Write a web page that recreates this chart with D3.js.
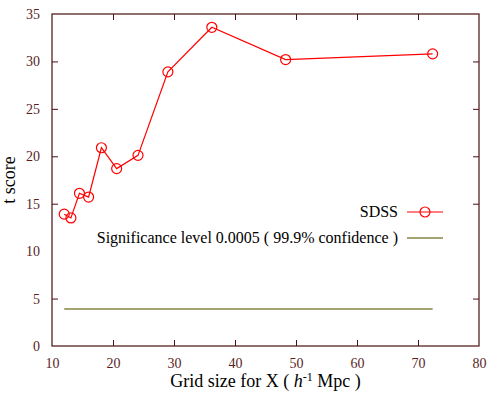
<!DOCTYPE html>
<html><head><meta charset="utf-8">
<script src="https://cdn.jsdelivr.net/npm/d3@7"></script>
<style>
  @font-face { font-family: "GpSerif"; src: local("Liberation Serif"), local("LiberationSerif"); font-display: swap; }
  @font-face { font-family: "GpSerif"; font-style: italic; src: local("Liberation Serif Italic"), local("LiberationSerif-Italic"); font-display: swap; }
</style>
</head>
<body style="margin:0">
<svg id="fig" width="500" height="400"></svg>
<script>
// ------ data
var gridSize = [12.0, 13.1, 14.5, 16.0, 18.1, 20.6, 24.1, 29.0, 36.2, 48.3, 72.4];
var tScore   = [13.9, 13.5, 16.1, 15.7, 20.9, 18.7, 20.1, 28.9, 33.6, 30.2, 30.8];
var sigX = [12.0, 72.4];
var sigLevel = 3.9;
var xTicks = [10, 20, 30, 40, 50, 60, 70, 80];
var yTicks = [0, 5, 10, 15, 20, 25, 30, 35];
var legendLabels = ["SDSS", "Significance level 0.0005 ( 99.9% confidence )"];

// ------ margins / sizes
var margin = {top: 14, right: 21, bottom: 54, left: 52},
    width = 500 - margin.left - margin.right,
    height = 400 - margin.top - margin.bottom;

var fontSerif = "'Liberation Serif', GpSerif, 'Times New Roman', serif";
var axisColor = "#4a1010";
var svg = d3.select("#fig").attr("font-family", "Liberation Serif").style("font-family", fontSerif);

var x = d3.scaleLinear().domain([10, 80]).range([0, width]);
var y = d3.scaleLinear().domain([0, 35]).range([height, 0]);

var g = svg.append("g").attr("transform", "translate(" + margin.left + "," + margin.top + ")");

// axes, gnuplot style: inward ticks, mirrored
var tk = 6;
g.append("g").attr("transform", "translate(0," + height + ")")
  .call(d3.axisBottom(x).tickValues(xTicks).tickSizeInner(-tk).tickSizeOuter(0).tickPadding(12));
g.append("g")
  .call(d3.axisTop(x).tickValues(xTicks).tickSizeInner(-tk).tickSizeOuter(0).tickFormat(""));
g.append("g")
  .call(d3.axisLeft(y).tickValues(yTicks).tickSizeInner(-tk).tickSizeOuter(0).tickPadding(12));
g.append("g").attr("transform", "translate(" + width + ",0)")
  .call(d3.axisRight(y).tickValues(yTicks).tickSizeInner(-tk).tickSizeOuter(0).tickFormat(""));

g.selectAll(".domain").remove();
g.selectAll("g").attr("font-family", "Liberation Serif");
g.selectAll(".tick line").attr("stroke", axisColor);
g.selectAll(".tick text").attr("fill", "#5a1e1e")
  .style("font-family", fontSerif).style("font-size", "14px");
// drop end ticks that land on the border
g.selectAll(".tick").filter(function(d) { return d === 10 || d === 80 || d === 0 || d === 35; })
  .select("line").remove();

g.append("rect")
  .attr("width", width).attr("height", height)
  .attr("fill", "none").attr("stroke", axisColor).attr("stroke-width", 1.2);

// significance line
g.append("line")
  .attr("x1", x(sigX[0])).attr("x2", x(sigX[1]))
  .attr("y1", y(sigLevel)).attr("y2", y(sigLevel))
  .attr("stroke", "#a4a473").attr("stroke-width", 2);

// SDSS line + circles
var pts = gridSize.map(function(d, i) { return {x: d, y: tScore[i]}; });
g.append("path").datum(pts)
  .attr("fill", "none").attr("stroke", "#ff0000").attr("stroke-width", 1.2)
  .attr("d", d3.line().x(d => x(d.x)).y(d => y(d.y)));
g.selectAll(".dot").data(pts).enter().append("circle")
  .attr("class", "dot")
  .attr("cx", d => x(d.x)).attr("cy", d => y(d.y)).attr("r", 5)
  .attr("fill", "none").attr("stroke", "#ff0000").attr("stroke-width", 1.2);

// legend
var lgX = 398, lgY = [212, 238];
svg.append("text").attr("x", lgX).attr("y", lgY[0] + 5).attr("text-anchor", "end")
  .style("font-family", fontSerif).style("font-size", "16px").text(legendLabels[0]);
svg.append("line").attr("x1", 407).attr("x2", 443).attr("y1", lgY[0]).attr("y2", lgY[0])
  .attr("stroke", "#ff0000").attr("stroke-width", 1.2);
svg.append("circle").attr("cx", 425).attr("cy", lgY[0]).attr("r", 5)
  .attr("fill", "none").attr("stroke", "#ff0000").attr("stroke-width", 1.2);
svg.append("text").attr("x", lgX).attr("y", lgY[1] + 5).attr("text-anchor", "end")
  .style("font-family", fontSerif).style("font-size", "16px").text(legendLabels[1]);
svg.append("line").attr("x1", 407).attr("x2", 443).attr("y1", lgY[1]).attr("y2", lgY[1])
  .attr("stroke", "#a4a473").attr("stroke-width", 2);

// axis titles
svg.append("text")
  .attr("transform", "translate(15," + (margin.top + height / 2) + ") rotate(-90)")
  .attr("text-anchor", "middle").style("font-family", fontSerif).style("font-size", "18px")
  .text("t score");
var xl = svg.append("text").attr("x", margin.left + width / 2).attr("y", 387)
  .attr("text-anchor", "middle").style("font-family", fontSerif).style("font-size", "18px");
xl.append("tspan").text("Grid size for X ( ");
xl.append("tspan").style("font-style", "italic").text("h");
xl.append("tspan").attr("dy", "-6").style("font-size", "12px").text("-1");
xl.append("tspan").attr("dy", "6").text(" Mpc )");
</script>
</body></html>
